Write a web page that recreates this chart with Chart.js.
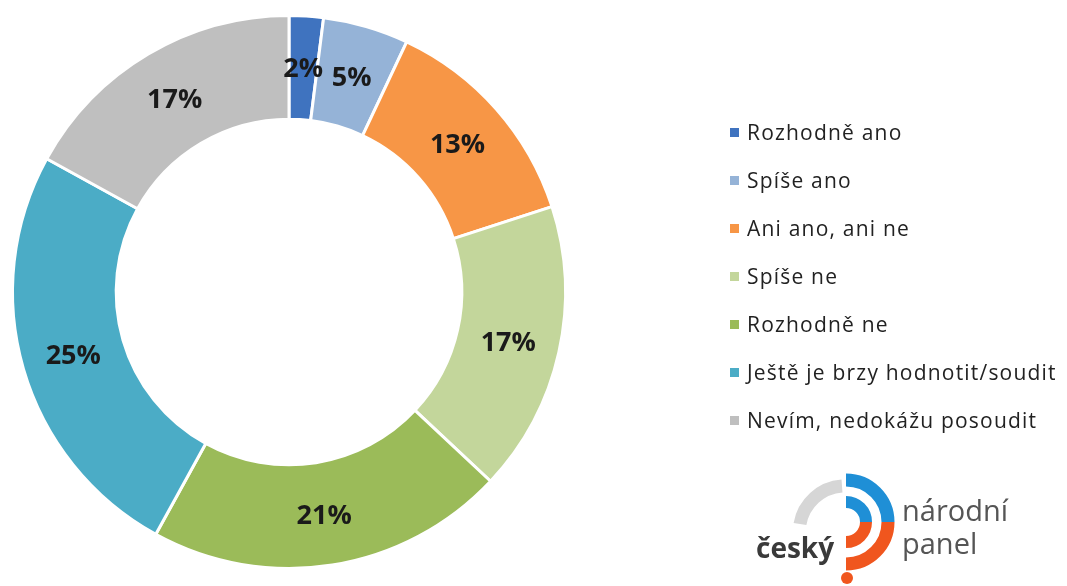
<!DOCTYPE html>
<html>
<head>
<meta charset="utf-8">
<script src="https://cdn.jsdelivr.net/npm/chart.js@4/dist/chart.umd.min.js"></script>
<style>
    html, body { margin: 0; padding: 0; background: #fff; }
    #wrap { position: relative; width: 1067px; height: 586px; overflow: hidden; }
    #graf { position: absolute; left: 0; top: 0; }
    #legenda { position: absolute; left: 730px; top: 108px; font-family: 'Open Sans', sans-serif; font-size: 21px; letter-spacing: 1.2px; color: #222; }
    #legenda .item { height: 48px; display: flex; align-items: center; white-space: nowrap; }
    #legenda .box { width: 9px; height: 9px; margin-right: 8px; }
    #logo { position: absolute; left: 750px; top: 466px; }
</style>
</head>
<body>
<div id="wrap">
    <canvas id="graf" width="1067" height="586"></canvas>
    <div id="legenda"></div>
    <svg id="logo" width="280" height="120" viewBox="0 0 280 120">
        <!-- sedy oblouk -->
        <path d="M 92 20 A 46 46 0 0 0 50 58" stroke="#d6d6d6" stroke-width="13" fill="none"/>
        <!-- modre / oranzove oblouky -->
        <path d="M 96 14 A 42 42 0 0 1 138 56" stroke="#1f8fd6" stroke-width="13" fill="none"/>
        <path d="M 138 56 A 42 42 0 0 1 96 98" stroke="#f0561e" stroke-width="13" fill="none"/>
        <path d="M 96 36 A 20 20 0 0 1 116 56" stroke="#1f8fd6" stroke-width="12" fill="none"/>
        <path d="M 116 56 A 20 20 0 0 1 96 76" stroke="#f0561e" stroke-width="12" fill="none"/>
        <circle cx="97" cy="112" r="6" fill="#f0561e"/>
        <text x="6" y="92" font-family="'Open Sans', sans-serif" font-weight="bold" font-size="28" fill="#3a3a3a">český</text>
        <text x="152" y="55" font-family="'Open Sans', sans-serif" font-size="29" fill="#555">národní</text>
        <text x="152" y="88" font-family="'Open Sans', sans-serif" font-size="29" fill="#555">panel</text>
    </svg>
</div>
<script>
const kategorie = ['Rozhodně ano', 'Spíše ano', 'Ani ano, ani ne', 'Spíše ne', 'Rozhodně ne', 'Ještě je brzy hodnotit/soudit', 'Nevím, nedokážu posoudit'];
const hodnoty = [2, 5, 13, 17, 21, 25, 17];
const barvy = ['#3f73bf', '#95b3d7', '#f79646', '#c3d69b', '#9bbb59', '#4bacc6', '#bfbfbf'];

// legenda vedle grafu
const leg = document.getElementById('legenda');
kategorie.forEach((k, i) => {
    const row = document.createElement('div');
    row.className = 'item';
    row.innerHTML = '<span class="box" style="background:' + barvy[i] + '"></span><span>' + k + '</span>';
    leg.appendChild(row);
});

// popisky procent uprostred vysece
const popisky = {
    id: 'popisky',
    afterDatasetsDraw(chart) {
        const ctx = chart.ctx;
        const meta = chart.getDatasetMeta(0);
        ctx.save();
        ctx.font = 'bold 27px "Open Sans", sans-serif';
        ctx.fillStyle = '#1a1a1a';
        ctx.textAlign = 'center';
        ctx.textBaseline = 'middle';
        meta.data.forEach((arc, i) => {
            const p = arc.tooltipPosition();
            ctx.fillText(hodnoty[i] + '%', p.x, p.y + 2);
        });
        ctx.restore();
    }
};

new Chart(document.getElementById('graf'), {
    type: 'doughnut',
    data: {
        labels: kategorie,
        datasets: [{
            data: hodnoty,
            backgroundColor: barvy,
            borderColor: '#ffffff',
            borderWidth: 3
        }]
    },
    options: {
        responsive: false,
        animation: false,
        cutout: '62.5%',
        layout: { padding: { left: 11, right: 500, top: 14, bottom: 16 } },
        plugins: {
            legend: { display: false },
            tooltip: { enabled: false }
        }
    },
    plugins: [popisky]
});
</script>
</body>
</html>
